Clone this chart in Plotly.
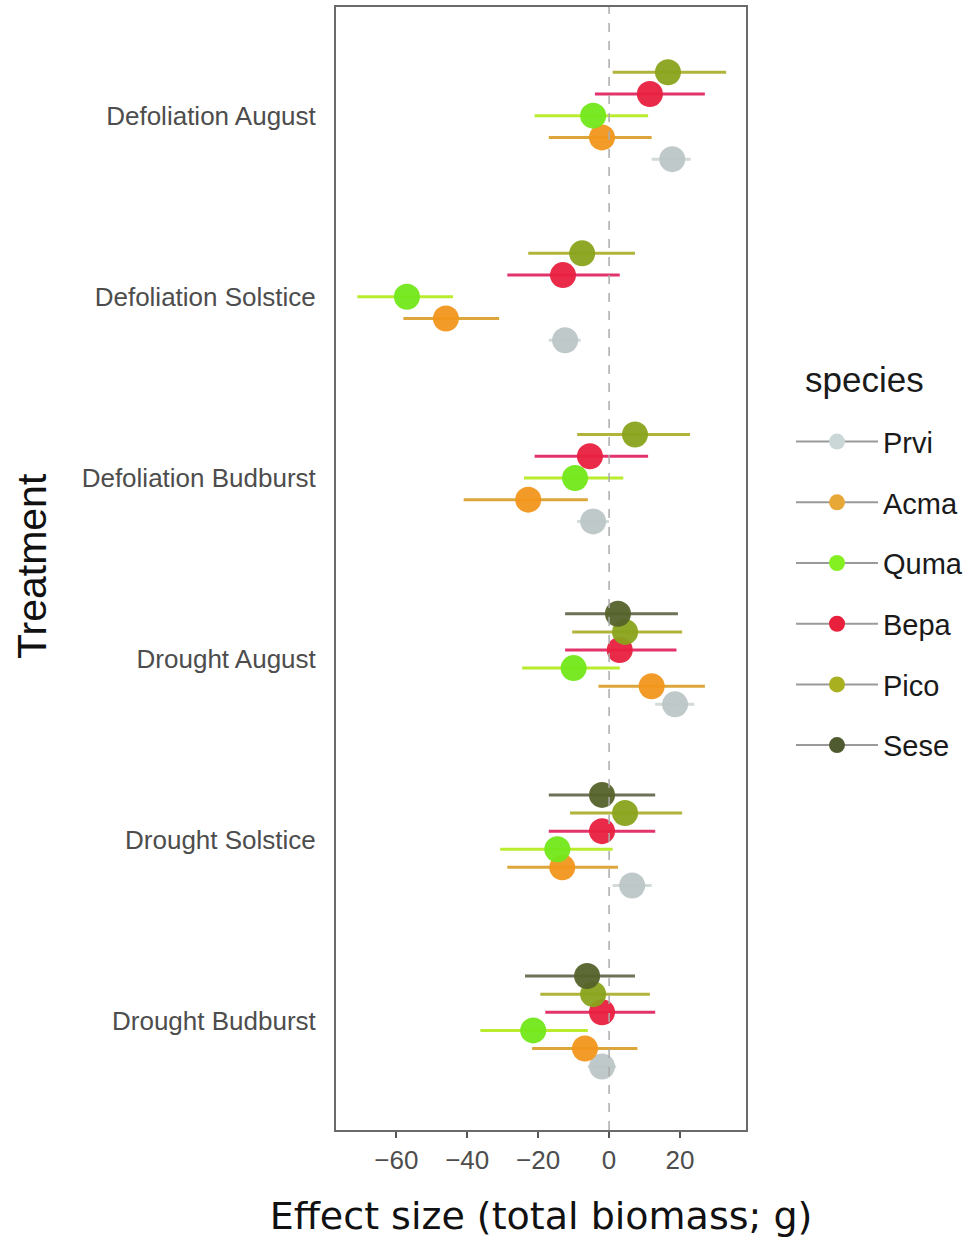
import plotly.graph_objects as go

treatments = ["Defoliation August", "Defoliation Solstice", "Defoliation Budburst",
              "Drought August", "Drought Solstice", "Drought Budburst"]
species = ["Prvi", "Acma", "Quma", "Bepa", "Pico", "Sese"]

prvi_est = [17.8, -12.4, -4.5, 18.6, 6.5, -2.0]
prvi_lo = [12.0, -17.0, -9.0, 13.0, 1.0, -6.0]
prvi_hi = [23.0, -8.0, 0.0, 24.0, 12.0, 2.0]

acma_est = [-2.0, -46.0, -22.8, 12.0, -13.2, -6.8]
acma_lo = [-17.0, -58.0, -41.0, -3.0, -28.7, -21.7]
acma_hi = [12.0, -31.0, -6.0, 27.0, 2.5, 8.0]

quma_est = [-4.5, -57.0, -9.6, -10.0, -14.6, -21.4]
quma_lo = [-21.0, -71.0, -24.0, -24.5, -30.7, -36.3]
quma_hi = [11.0, -44.0, 4.0, 3.0, 1.0, -6.0]

bepa_est = [11.5, -13.0, -5.4, 3.0, -2.0, -2.0]
bepa_lo = [-4.0, -28.7, -21.0, -12.4, -17.0, -18.0]
bepa_hi = [27.0, 3.0, 11.0, 19.0, 13.0, 13.0]

pico_est = [16.6, -7.6, 7.3, 4.5, 4.5, -4.5]
pico_lo = [1.0, -22.8, -9.0, -10.4, -11.0, -19.4]
pico_hi = [33.0, 7.3, 22.8, 20.6, 20.6, 11.5]

sese_est = [None, None, None, 2.5, -2.0, -6.2]
sese_lo = [None, None, None, -12.4, -17.0, -23.7]
sese_hi = [None, None, None, 19.4, 13.0, 7.3]

x_ticks = [-60, -40, -20, 0, 20]

data = {
    "Prvi": (prvi_est, prvi_lo, prvi_hi),
    "Acma": (acma_est, acma_lo, acma_hi),
    "Quma": (quma_est, quma_lo, quma_hi),
    "Bepa": (bepa_est, bepa_lo, bepa_hi),
    "Pico": (pico_est, pico_lo, pico_hi),
    "Sese": (sese_est, sese_lo, sese_hi),
}

point_col = {"Prvi": "#bcc6c6", "Acma": "#f2961c", "Quma": "#72e81a",
             "Bepa": "#e8203f", "Pico": "#8aa31c", "Sese": "#55622a"}
bar_col = {"Prvi": "#d2dada", "Acma": "#dca63a", "Quma": "#b8ec2c",
           "Bepa": "#e3336b", "Pico": "#b0b43a", "Sese": "#6e7058"}
leg_col = {"Prvi": "#cbd6d6", "Acma": "#e8a838", "Quma": "#84f022",
           "Bepa": "#e8203c", "Pico": "#a8b020", "Sese": "#505a30"}

dodge_w = 0.6
n_t = len(treatments)

# dodge positions computed per treatment
positions = {s: [None] * n_t for s in species}
for ti, t in enumerate(treatments):
    present = [s for s in species if data[s][0][ti] is not None]
    n = len(present)
    base = n_t - ti
    for k, s in enumerate(present):
        positions[s][ti] = base + (k - (n - 1) / 2) * dodge_w / n

fig = go.Figure()

fig.add_vline(x=0, line=dict(color="#ababab", width=1.5, dash="dash"))

for s in species:
    est, lo, hi = data[s]
    xs, ys, ep, em = [], [], [], []
    for ti in range(n_t):
        if est[ti] is None:
            continue
        xs.append(est[ti])
        ys.append(positions[s][ti])
        ep.append(hi[ti] - est[ti])
        em.append(est[ti] - lo[ti])
    fig.add_trace(go.Scatter(
        x=xs, y=ys, mode="markers", name=s, showlegend=False,
        marker=dict(size=26, color=point_col[s], opacity=0.95, line=dict(width=0)),
        error_x=dict(type="data", array=ep, arrayminus=em, color=bar_col[s],
                     thickness=3, width=0),
    ))

for s in species:
    fig.add_trace(go.Scatter(
        x=[None], y=[None], mode="lines+markers", name=s, legendgroup=s,
        marker=dict(size=22, color=leg_col[s]),
        line=dict(color="#9a9a9a", width=2),
    ))

fig.add_annotation(
    text="species", xref="paper", yref="paper",
    x=1 + (803 - 746) / 410, xanchor="left",
    y=(1130 - 378) / 1125, yanchor="middle",
    showarrow=False, font=dict(size=35, color="#1a1a1a"),
)

fig.add_annotation(
    text="Treatment", xref="paper", yref="paper",
    x=(32 - 336) / 410, xanchor="center",
    y=(1130 - 565) / 1125, yanchor="middle",
    textangle=-90, showarrow=False, font=dict(size=41, color="#111111"),
)

fig.update_layout(
    width=973, height=1239,
    margin=dict(l=336, r=227, t=5, b=109),
    plot_bgcolor="white", paper_bgcolor="white",
    font=dict(family="Liberation Sans, Arial, sans-serif", color="#1a1a1a"),
    legend=dict(
        font=dict(size=29, color="#1a1a1a"),
        x=1 + (791 - 746) / 410, xanchor="left", xref="paper",
        y=(1130 - 415) / 1125, yanchor="top",
        traceorder="grouped", tracegroupgap=20, itemwidth=82,
        bgcolor="rgba(0,0,0,0)",
    ),
    xaxis=dict(
        range=[-77, 38.6], tickvals=x_ticks,
        ticks="outside", ticklen=6, tickwidth=1.5, tickcolor="#555555",
        tickfont=dict(size=26, color="#4d4d4d"),
        showgrid=False, zeroline=False,
        showline=True, mirror=True, linecolor="#6a6a6a", linewidth=2,
        title=dict(text="Effect size (total biomass; g)",
                   font=dict(family="DejaVu Sans, sans-serif", size=38, color="#111111"),
                   standoff=28),
    ),
    yaxis=dict(
        range=[0.4, 6.6], tickvals=[n_t - i for i in range(n_t)], ticktext=treatments,
        ticks="", ticklabelstandoff=13,
        tickfont=dict(size=26, color="#4d4d4d"),
        showgrid=False, zeroline=False,
        showline=True, mirror=True, linecolor="#6a6a6a", linewidth=2,
    ),
)

fig.write_html("out.html")
